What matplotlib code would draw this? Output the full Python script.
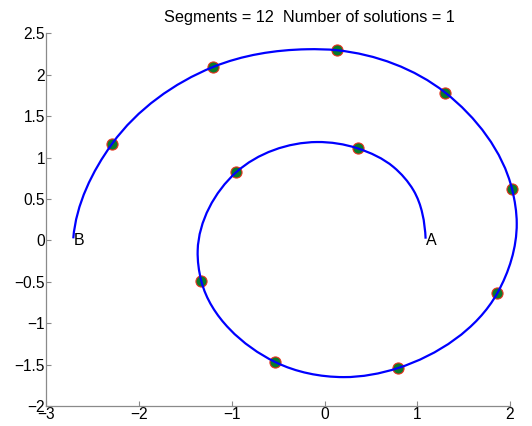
import numpy as np
import matplotlib
matplotlib.use("Agg")
import matplotlib.pyplot as plt
from matplotlib.path import Path
from matplotlib.patches import PathPatch

plt.rcParams['font.family'] = ['Liberation Sans', 'DejaVu Sans']

# ---- data ----
# trace of the spiral curve from A to B
curve_x = [1.09, 0.959, 0.744, 0.356, -0.082, -0.955, -1.369, -1.329,
           -0.531, 0.205, 0.791, 1.864, 2.073, 2.023, 1.301, 0.134, -0.190,
           -1.203, -2.291, -2.711]
curve_y = [0.02, 0.604, 0.885, 1.111, 1.187, 0.821, -0.121, -0.495,
           -1.470, -1.651, -1.542, -0.636, 0.205, 0.616, 1.784, 2.295, 2.307,
           2.093, 1.168, 0.024]

# solution joints (markers)
joint_x = [0.356, -0.955, -1.329, -0.531, 0.791, 1.864, 2.023, 1.301, 0.134, -1.203, -2.291]
joint_y = [1.111, 0.821, -0.495, -1.470, -1.542, -0.636, 0.616, 1.784, 2.295, 2.093, 1.168]

end_labels = ['A', 'B']
end_x = [1.09, -2.711]
end_y = [0.0, 0.0]

n_segments = 12
n_solutions = 1

x_ticks = [-3, -2, -1, 0, 1, 2]
y_ticks = [-2, -1.5, -1, -0.5, 0, 0.5, 1, 1.5, 2, 2.5]


def smooth_path(xs, ys, start_dir, end_dir, sx=92.8, sy=82.8):
    """Smooth Bezier path through the traced points (Bessel tangents)."""
    p = np.column_stack([np.asarray(xs) * sx, np.asarray(ys) * sy]).astype(float)
    n = len(p)
    d = np.linalg.norm(np.diff(p, axis=0), axis=1)
    u = np.diff(p, axis=0) / d[:, None]
    t = np.zeros_like(p)
    for i in range(1, n - 1):
        a, b = d[i - 1], d[i]
        t[i] = (b * u[i - 1] + a * u[i]) / (a + b)
    t[0] = start_dir
    t[-1] = end_dir
    t /= np.linalg.norm(t, axis=1)[:, None]
    verts = [p[0]]
    codes = [Path.MOVETO]
    for i in range(n - 1):
        verts += [p[i] + t[i] * d[i] / 3, p[i + 1] - t[i + 1] * d[i] / 3, p[i + 1]]
        codes += [Path.CURVE4] * 3
    v = np.array(verts)
    v[:, 0] /= sx
    v[:, 1] /= sy
    return Path(v, codes)


fig = plt.figure(figsize=(5.32, 4.26), dpi=100)
ax = fig.add_axes([0.0874, 0.0469, 0.8712, 0.875])

ax.plot(joint_x, joint_y, 'o', ms=8, mfc='#0a7a2a', mec='#e8321e', mew=0.8,
        zorder=2, clip_on=False)
ax.add_patch(PathPatch(smooth_path(curve_x, curve_y, (-0.05, 1.0), (-0.08, -1.0)),
                       fc='none', ec='#0000ff', lw=1.6, zorder=3, clip_on=False))

for lab, x, y in zip(end_labels, end_x, end_y):
    ax.text(x, y, lab, ha='left', va='center', fontsize=11.5, color='black')

ax.set_xlim(-3, 2)
ax.set_ylim(-2, 2.5)
ax.set_xticks(x_ticks)
ax.set_yticks(y_ticks)
ax.set_xticklabels([f"{v:g}".replace('-', '\u2212') for v in x_ticks])
ax.set_yticklabels([f"{v:g}".replace('-', '\u2212') for v in y_ticks])

for s in ['top', 'right']:
    ax.spines[s].set_visible(False)
for s in ['left', 'bottom']:
    ax.spines[s].set_color('#8a8a8a')
    ax.spines[s].set_linewidth(0.9)
ax.tick_params(direction='in', length=3.5, width=0.8, color='#8a8a8a',
               labelsize=11.2, labelcolor='black', pad=1.0)

fig.text(0.582, 0.948, f"Segments = {n_segments}  Number of solutions = {n_solutions}",
         ha='center', va='baseline', fontsize=11.7)

fig.savefig('out.png', dpi=100)
